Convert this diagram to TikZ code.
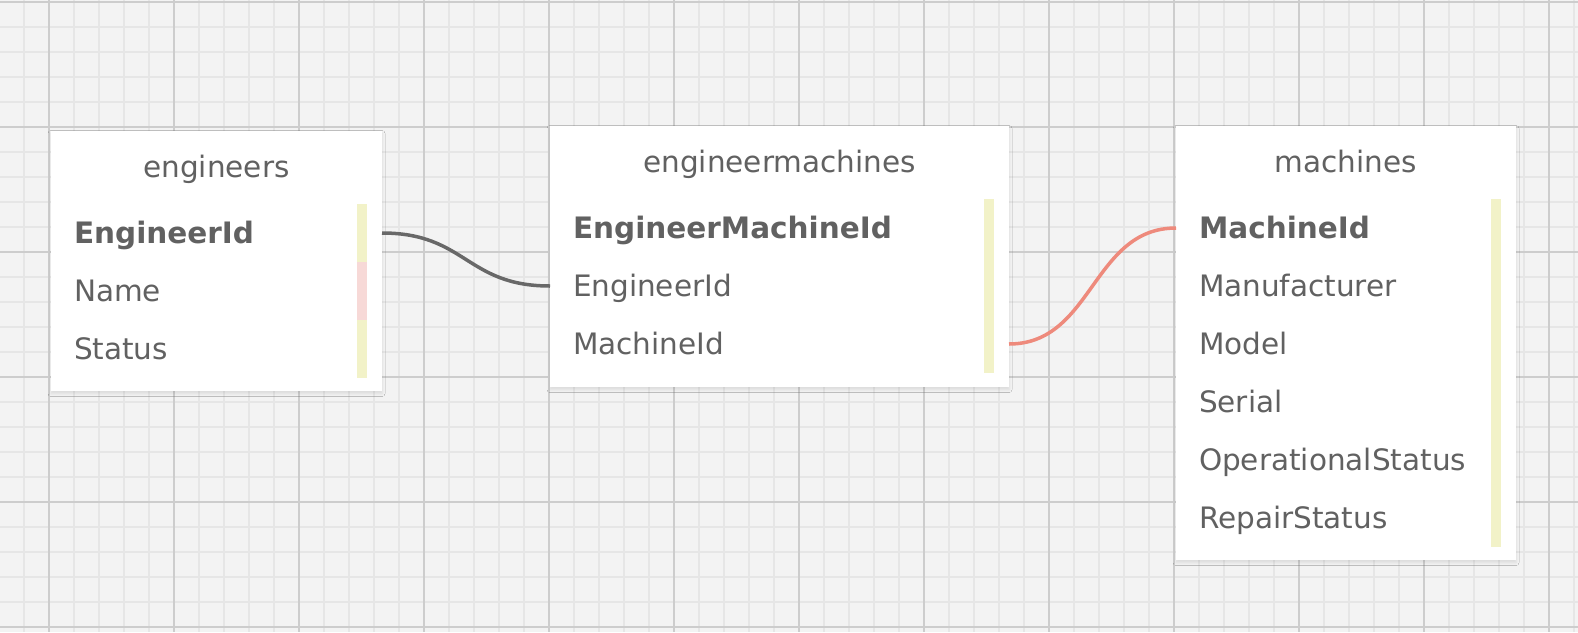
\documentclass[tikz,border=0pt]{standalone}
\usepackage{fontspec}
\setmainfont{DejaVu Sans}
\usepackage{tikz}
\usetikzlibrary{positioning, shadows.blur}
\usepackage{xcolor}

\definecolor{paper}{HTML}{F3F3F3}
\definecolor{gridminor}{HTML}{E6E6E6}
\definecolor{gridmajor}{HTML}{CDCDCD}
\definecolor{ink}{HTML}{616161}
\definecolor{keybar}{HTML}{F2F2C8}
\definecolor{namebar}{HTML}{F7D9D7}
\definecolor{linkgray}{HTML}{686868}
\definecolor{linkred}{HTML}{EE8A7C}

\begin{document}
\begin{tikzpicture}[
    x=1pt, y=-1pt,
    every node/.style={font=\fontsize{29.5}{35}\selectfont, text=ink, outer sep=0pt},
    minorline/.style={draw=gridminor, line width=1.5pt},
    majorline/.style={draw=gridmajor, line width=2pt},
    table/.style={fill=white, inner sep=0pt, anchor=north west,
      blur shadow={shadow xshift=0pt, shadow yshift=-2.5pt, shadow blur radius=3pt, shadow opacity=10}},
    thead/.style={inner sep=0pt, text height=46pt, text depth=27pt},
    field/.style={text width=#1, align=left, inner xsep=23pt, inner ysep=0pt,
      text height=39pt, text depth=19pt, anchor=north west},
    keyfield/.style={field=#1, font=\fontsize{29.5}{35}\selectfont\bfseries},
    ybar/.style={fill=keybar},
    pbar/.style={fill=namebar},
    link/.style={line width=3.5pt, draw=linkgray},
    fklink/.style={line width=3.5pt, draw=linkred}
  ]

  % paper and grid
  \useasboundingbox (0,0) rectangle (1578,632);
  \fill[paper] (0,0) rectangle (1578,632);
  \begin{scope}
    \clip (0,0) rectangle (1578,632);
    \foreach \x in {-1,24,...,1599} \draw[minorline] (\x,0) -- (\x,632);
    \foreach \y in {2,27,...,652} \draw[minorline] (0,\y) -- (1578,\y);
    \foreach \x in {49,174,...,1549} \draw[majorline] (\x,0) -- (\x,632);
    \foreach \y in {2,127,...,627} \draw[majorline] (0,\y) -- (1578,\y);
  \end{scope}

  % engineers
  \node[table, minimum width=331pt, minimum height=260pt] (engineers) at (51,131) {};
  \node[thead, below=0pt of engineers.north] (engineers-h) {engineers};
  \node[keyfield=285pt] (eng-id) at ([yshift=-73pt]engineers.north west) {EngineerId};
  \node[field=285pt, below=0pt of eng-id] (eng-name) {Name};
  \node[field=285pt, below=0pt of eng-name] (eng-status) {Status};

  % engineermachines
  \node[table, minimum width=459pt, minimum height=261pt] (engmach) at (550,126) {};
  \node[thead, below=0pt of engmach.north] (engmach-h) {engineermachines};
  \node[keyfield=413pt] (em-id) at ([yshift=-73pt]engmach.north west) {EngineerMachineId};
  \node[field=413pt, below=0pt of em-id] (em-eid) {EngineerId};
  \node[field=413pt, below=0pt of em-eid] (em-mid) {MachineId};

  % machines
  \node[table, minimum width=340pt, minimum height=434pt] (machines) at (1176,126) {};
  \node[thead, below=0pt of machines.north] (machines-h) {machines};
  \node[keyfield=294pt] (mac-id) at ([yshift=-73pt]machines.north west) {MachineId};
  \node[field=294pt, below=0pt of mac-id] (mac-manu) {Manufacturer};
  \node[field=294pt, below=0pt of mac-manu] (mac-model) {Model};
  \node[field=294pt, below=0pt of mac-model] (mac-serial) {Serial};
  \node[field=294pt, below=0pt of mac-serial] (mac-op) {OperationalStatus};
  \node[field=294pt, below=0pt of mac-op] (mac-rep) {RepairStatus};

  % side bars
  \fill[ybar] ([xshift=-25pt]eng-id.north east) rectangle ([xshift=-15pt]eng-id.south east);
  \fill[pbar] ([xshift=-25pt]eng-name.north east) rectangle ([xshift=-15pt]eng-name.south east);
  \fill[ybar] ([xshift=-25pt]eng-status.north east) rectangle ([xshift=-15pt]eng-status.south east);
  \fill[ybar] ([xshift=-25pt]em-id.north east) rectangle ([xshift=-15pt]em-mid.south east);
  \fill[ybar] ([xshift=-25pt]mac-id.north east) rectangle ([xshift=-15pt]mac-rep.south east);

  % relations
  \draw[link] (eng-id.east) .. controls +(84,0) and +(-84,0) .. (em-eid.west);
  \draw[fklink] (em-mid.east) .. controls +(84,0) and +(-84,0) .. (mac-id.west);

\end{tikzpicture}
\end{document}
